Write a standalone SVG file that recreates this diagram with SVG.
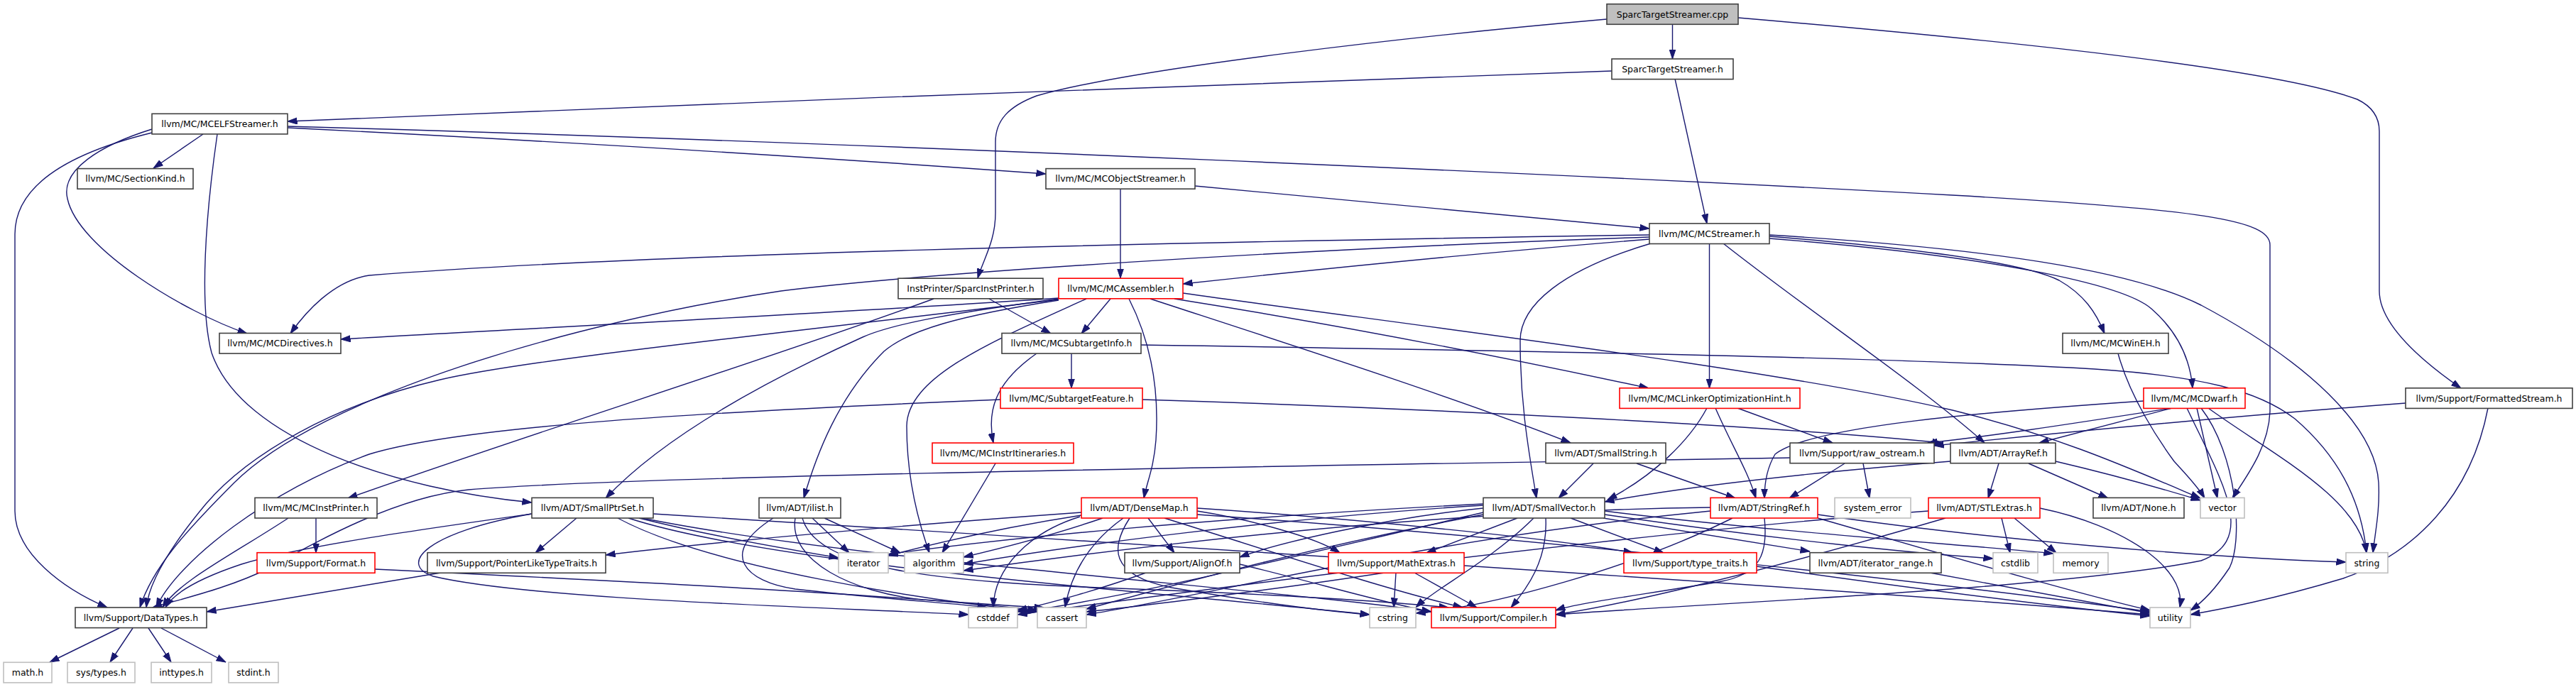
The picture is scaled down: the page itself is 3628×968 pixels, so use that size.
<svg xmlns="http://www.w3.org/2000/svg" width="3628" height="968" viewBox="0 0 3628 968">
<style>
.b{fill:#fff;stroke:#404040;stroke-width:1.6}
.r{fill:#fff;stroke:#ff0000;stroke-width:1.6}
.g{fill:#fff;stroke:#bfbfbf;stroke-width:1.6}
.s{fill:#bfbfbf;stroke:#404040;stroke-width:1.6}
text{font-family:"DejaVu Sans","Liberation Sans",sans-serif;font-size:12.5px;text-anchor:middle;fill:#000}
#edges path{fill:none;stroke:#191970;stroke-width:1.4;marker-end:url(#a)}
</style>
<defs>
<marker id="a" markerWidth="14" markerHeight="10" refX="13.5" refY="5" orient="auto" markerUnits="userSpaceOnUse">
<path d="M0,0.5 L13.5,5 L0,9.5 z" fill="#191970" stroke="#191970" stroke-width="1"/>
</marker>
</defs>
<rect width="3628" height="968" fill="#fff"/>
<g id="edges">
<path d="M2355.5,34 L2355.5,83"/>
<path d="M2263,27 C2000,50 1600,95 1460,135 C1420,150 1402,170 1402,200 L1402,300 C1402,340 1385,365 1377,392"/>
<path d="M2448,25 C2800,55 3200,95 3320,140 C3345,152 3351,170 3351,185 L3351,410 C3351,460 3420,515 3466,547"/>
<path d="M2270,100 C1700,120 1000,145 405,171"/>
<path d="M2359,111 L2404,315"/>
<path d="M286,189 L216,237"/>
<path d="M405,180 C800,200 1200,225 1473,245"/>
<path d="M214,182 C140,205 85,240 95,280 C110,350 260,440 348,470"/>
<path d="M214,187 C100,215 21,260 21,330 L21,720 C21,780 90,830 151,856"/>
<path d="M306,189 C290,300 280,430 298,497 C340,620 560,690 749,708"/>
<path d="M405,178 C1200,200 2300,250 2750,275 C3100,295 3197,310 3197,345 L3197,580 C3195,630 3165,670 3144,702"/>
<path d="M1683,262 L2323,322"/>
<path d="M1578,266 L1578,392"/>
<path d="M2323,331 C1600,342 900,358 520,388 C470,395 430,440 409,470"/>
<path d="M2323,334 C1800,352 1300,385 1100,410 C800,455 450,560 330,680 C260,750 215,800 197,856"/>
<path d="M2323,337 C2100,355 1850,380 1666,400"/>
<path d="M2407.5,343 L2407.5,547"/>
<path d="M2325,343 C2200,380 2141,430 2141,480 C2141,560 2150,620 2164,702"/>
<path d="M2427,343 C2550,440 2700,540 2795,624"/>
<path d="M2492,333 C2700,350 2850,370 2900,395 C2935,415 2952,440 2964,470"/>
<path d="M2492,336 C2800,360 2990,400 3030,435 C3070,470 3085,510 3088,547"/>
<path d="M2492,331 C2800,350 3000,380 3100,430 C3250,510 3345,600 3350,680 C3352,720 3345,750 3342,779"/>
<path d="M1491,420 C1200,440 700,465 480,478"/>
<path d="M1491,422 C1100,470 750,505 620,535 C470,570 350,640 290,710 C240,770 210,820 206,856"/>
<path d="M1491,423 C1350,445 1280,465 1245,495 C1180,560 1150,640 1132,702"/>
<path d="M1491,421 C1350,440 1260,455 1215,475 C1060,545 930,620 853,702"/>
<path d="M1530,421 C1400,480 1278,530 1277,600 C1277,680 1295,740 1309,779"/>
<path d="M1564,421 L1523,470"/>
<path d="M1590,421 C1625,490 1632,560 1628,620 C1625,660 1615,680 1611,702"/>
<path d="M1666,413 C2000,460 2500,520 2750,578 C2900,615 3000,660 3099,702"/>
<path d="M1654,421 C1900,460 2150,510 2322,547"/>
<path d="M1620,421 C1800,480 2050,560 2212,624"/>
<path d="M1315,421 C1100,500 750,610 490,702"/>
<path d="M1393,421 L1480,470"/>
<path d="M1509,498 L1509,547"/>
<path d="M1460,498 C1400,540 1390,580 1399,624"/>
<path d="M1607,486 C2200,495 2700,505 2950,520 C3100,530 3180,550 3232,590 C3290,640 3325,700 3333,779"/>
<path d="M1409,563 C1000,580 650,600 520,640 C380,690 250,790 220,856"/>
<path d="M1609,563 C2000,575 2500,600 2735,624"/>
<path d="M1402,653 L1327,779"/>
<path d="M406,730 C330,780 250,820 229,856"/>
<path d="M445,730 L445,779"/>
<path d="M528,802 C900,820 1300,840 1461,860"/>
<path d="M812,730 L754,779"/>
<path d="M749,724 C600,745 420,770 340,795 C280,815 245,835 233,856"/>
<path d="M749,724 C600,750 560,795 610,812 C750,845 1150,855 1364,866"/>
<path d="M900,730 C1000,755 1100,772 1181,786"/>
<path d="M870,730 C1000,800 1300,845 1461,862"/>
<path d="M885,730 C1100,800 1700,840 1929,866"/>
<path d="M905,730 C1200,790 1800,830 2016,862"/>
<path d="M920,724 C1500,760 2600,830 3028,866"/>
<path d="M1144,730 L1196,779"/>
<path d="M1161,730 L1268,779"/>
<path d="M1089,730 C1010,780 1050,820 1120,830 C1250,845 1350,850 1390,856"/>
<path d="M1120,730 C1110,790 1200,835 1300,845 C1400,852 1440,855 1470,856"/>
<path d="M1130,730 C1150,800 1300,820 1600,830 C1850,840 1980,850 2040,856"/>
<path d="M1523,722 C1200,745 950,770 853,782"/>
<path d="M1523,726 C1400,745 1300,770 1251,783"/>
<path d="M1553,730 C1480,755 1400,775 1357,785"/>
<path d="M1617,730 L1654,779"/>
<path d="M1521,728 C1450,750 1400,800 1399,856"/>
<path d="M1582,730 C1540,760 1510,800 1500,856"/>
<path d="M1591,730 C1565,770 1560,810 1650,828 C1750,845 1850,860 1929,866"/>
<path d="M1640,730 C1800,780 1950,830 2060,856"/>
<path d="M1686,720 C1750,730 1850,755 1887,779"/>
<path d="M1686,716 C1900,730 2200,760 2300,779"/>
<path d="M1686,725 C2200,760 2800,830 3028,862"/>
<path d="M2258,730 L2549,777"/>
<path d="M2212,730 L2343,779"/>
<path d="M2137,730 L2009,779"/>
<path d="M2160,730 C2100,790 2020,830 1994,856"/>
<path d="M2177,730 C2180,790 2150,830 2128,856"/>
<path d="M2089,716 C1950,730 1800,765 1746,785"/>
<path d="M2089,712 C1800,730 1500,770 1357,795"/>
<path d="M2089,710 C1700,730 1400,760 1251,781"/>
<path d="M2089,725 C1800,780 1600,840 1530,858"/>
<path d="M2089,722 C1800,790 1550,850 1433,862"/>
<path d="M2260,725 C2500,760 2700,780 2807,787"/>
<path d="M2260,720 C2500,750 2800,770 2892,780"/>
<path d="M2485,730 C2490,780 2480,810 2420,820 C2300,840 2220,850 2191,860"/>
<path d="M2409,715 C2000,720 1600,770 1357,804"/>
<path d="M2409,720 C2000,760 1700,840 1530,866"/>
<path d="M2560,725 C2800,760 3100,785 3304,792"/>
<path d="M2560,730 C2700,770 2900,830 3028,860"/>
<path d="M2440,730 C2300,800 2100,855 1994,864"/>
<path d="M2598,653 L2520,702"/>
<path d="M2624,653 L2633,702"/>
<path d="M2521,645 C1800,657 900,670 660,690 C560,700 450,760 380,800 C320,830 250,845 215,856"/>
<path d="M2404,575 C2380,620 2330,670 2264,704"/>
<path d="M2416,575 C2440,630 2460,660 2473,702"/>
<path d="M2447,575 L2581,624"/>
<path d="M2244,653 L2195,702"/>
<path d="M2305,653 L2444,702"/>
<path d="M2815,653 L2800,702"/>
<path d="M2857,653 L2969,702"/>
<path d="M2895,650 C2980,670 3050,690 3099,705"/>
<path d="M2747,650 C2500,670 2350,690 2260,707"/>
<path d="M2819,730 L2831,779"/>
<path d="M2837,730 L2896,779"/>
<path d="M2873,716 C2990,740 3080,800 3070,856"/>
<path d="M2716,720 C2300,750 1700,830 1433,866"/>
<path d="M2740,730 C2500,800 2300,850 2191,866"/>
<path d="M3059,575 C2900,600 2800,615 2715,624"/>
<path d="M3059,575 L2872,624"/>
<path d="M3019,565 C2800,580 2550,600 2500,640 C2488,660 2485,680 2485,702"/>
<path d="M3094,575 L3123,702"/>
<path d="M3110,575 C3200,640 3320,700 3333,779"/>
<path d="M3100,575 C3150,640 3160,760 3140,800 C3120,830 3100,850 3085,860"/>
<path d="M3080,575 C3130,680 3180,760 3100,790 C2900,830 2400,850 2191,866"/>
<path d="M3388,568 C3100,590 2850,615 2724,628"/>
<path d="M3504,575 C3480,700 3400,780 3300,815 C3200,845 3130,858 3085,866"/>
<path d="M2718,807 L3028,864"/>
<path d="M2474,798 C2700,830 2900,855 3028,868"/>
<path d="M1966,807 L1963,856"/>
<path d="M1992,807 L2080,856"/>
<path d="M1950,807 C1800,830 1600,855 1530,862"/>
<path d="M1746,795 C1850,820 1950,850 2016,862"/>
<path d="M1614,807 C1550,830 1480,850 1433,860"/>
<path d="M627,806 L291,862"/>
<path d="M168,885 L70,933"/>
<path d="M187,885 L155,933"/>
<path d="M209,885 L241,933"/>
<path d="M227,885 L318,933"/>
<path d="M2983,498 C3000,560 3040,620 3062,650 C3080,670 3095,685 3105,702"/>
</g>
<g id="n0"><rect class="s" x="2263" y="5.7" width="185" height="28.6"/><text x="2355.5" y="24.5">SparcTargetStreamer.cpp</text></g>
<g id="n1"><rect class="b" x="2270" y="83" width="171" height="28.6"/><text x="2355.5" y="101.8">SparcTargetStreamer.h</text></g>
<g id="n2"><rect class="b" x="214" y="160.3" width="191" height="28.6"/><text x="309.5" y="179.1">llvm/MC/MCELFStreamer.h</text></g>
<g id="n3"><rect class="b" x="109" y="237.6" width="163" height="28.6"/><text x="190.5" y="256.4">llvm/MC/SectionKind.h</text></g>
<g id="n4"><rect class="b" x="1473" y="237.6" width="210" height="28.6"/><text x="1578" y="256.4">llvm/MC/MCObjectStreamer.h</text></g>
<g id="n5"><rect class="b" x="2323" y="314.9" width="169" height="28.6"/><text x="2407.5" y="333.7">llvm/MC/MCStreamer.h</text></g>
<g id="n6"><rect class="b" x="1265" y="392.2" width="204" height="28.6"/><text x="1367" y="411">InstPrinter/SparcInstPrinter.h</text></g>
<g id="n7"><rect class="r" x="1491" y="392.2" width="175" height="28.6"/><text x="1578.5" y="411">llvm/MC/MCAssembler.h</text></g>
<g id="n8"><rect class="b" x="309" y="469.5" width="171" height="28.6"/><text x="394.5" y="488.3">llvm/MC/MCDirectives.h</text></g>
<g id="n9"><rect class="b" x="1411" y="469.5" width="196" height="28.6"/><text x="1509" y="488.3">llvm/MC/MCSubtargetInfo.h</text></g>
<g id="n10"><rect class="b" x="2905" y="469.5" width="149" height="28.6"/><text x="2979.5" y="488.3">llvm/MC/MCWinEH.h</text></g>
<g id="n11"><rect class="r" x="1409" y="546.8" width="200" height="28.6"/><text x="1509" y="565.6">llvm/MC/SubtargetFeature.h</text></g>
<g id="n12"><rect class="r" x="2281" y="546.8" width="254" height="28.6"/><text x="2408" y="565.6">llvm/MC/MCLinkerOptimizationHint.h</text></g>
<g id="n13"><rect class="r" x="3019" y="546.8" width="143" height="28.6"/><text x="3090.5" y="565.6">llvm/MC/MCDwarf.h</text></g>
<g id="n14"><rect class="b" x="3388" y="546.8" width="235" height="28.6"/><text x="3505.5" y="565.6">llvm/Support/FormattedStream.h</text></g>
<g id="n15"><rect class="r" x="1313" y="624.1" width="199" height="28.6"/><text x="1412.5" y="642.9">llvm/MC/MCInstrItineraries.h</text></g>
<g id="n16"><rect class="b" x="2177" y="624.1" width="169" height="28.6"/><text x="2261.5" y="642.9">llvm/ADT/SmallString.h</text></g>
<g id="n17"><rect class="b" x="2521" y="624.1" width="203" height="28.6"/><text x="2622.5" y="642.9">llvm/Support/raw_ostream.h</text></g>
<g id="n18"><rect class="b" x="2747" y="624.1" width="148" height="28.6"/><text x="2821" y="642.9">llvm/ADT/ArrayRef.h</text></g>
<g id="n19"><rect class="b" x="359" y="701.4" width="172" height="28.6"/><text x="445" y="720.2">llvm/MC/MCInstPrinter.h</text></g>
<g id="n20"><rect class="b" x="749" y="701.4" width="171" height="28.6"/><text x="834.5" y="720.2">llvm/ADT/SmallPtrSet.h</text></g>
<g id="n21"><rect class="b" x="1069" y="701.4" width="115" height="28.6"/><text x="1126.5" y="720.2">llvm/ADT/ilist.h</text></g>
<g id="n22"><rect class="r" x="1523" y="701.4" width="163" height="28.6"/><text x="1604.5" y="720.2">llvm/ADT/DenseMap.h</text></g>
<g id="n23"><rect class="b" x="2089" y="701.4" width="171" height="28.6"/><text x="2174.5" y="720.2">llvm/ADT/SmallVector.h</text></g>
<g id="n24"><rect class="r" x="2409" y="701.4" width="151" height="28.6"/><text x="2484.5" y="720.2">llvm/ADT/StringRef.h</text></g>
<g id="n25"><rect class="g" x="2584" y="701.4" width="107" height="28.6"/><text x="2637.5" y="720.2">system_error</text></g>
<g id="n26"><rect class="r" x="2716" y="701.4" width="157" height="28.6"/><text x="2794.5" y="720.2">llvm/ADT/STLExtras.h</text></g>
<g id="n27"><rect class="b" x="2948" y="701.4" width="128" height="28.6"/><text x="3012" y="720.2">llvm/ADT/None.h</text></g>
<g id="n28"><rect class="g" x="3099" y="701.4" width="62" height="28.6"/><text x="3130" y="720.2">vector</text></g>
<g id="n29"><rect class="r" x="362" y="778.7" width="166" height="28.6"/><text x="445" y="797.5">llvm/Support/Format.h</text></g>
<g id="n30"><rect class="b" x="602" y="778.7" width="251" height="28.6"/><text x="727.5" y="797.5">llvm/Support/PointerLikeTypeTraits.h</text></g>
<g id="n31"><rect class="g" x="1181" y="778.7" width="70" height="28.6"/><text x="1216" y="797.5">iterator</text></g>
<g id="n32"><rect class="g" x="1274" y="778.7" width="83" height="28.6"/><text x="1315.5" y="797.5">algorithm</text></g>
<g id="n33"><rect class="b" x="1584" y="778.7" width="162" height="28.6"/><text x="1665" y="797.5">llvm/Support/AlignOf.h</text></g>
<g id="n34"><rect class="r" x="1871" y="778.7" width="191" height="28.6"/><text x="1966.5" y="797.5">llvm/Support/MathExtras.h</text></g>
<g id="n35"><rect class="r" x="2287" y="778.7" width="187" height="28.6"/><text x="2380.5" y="797.5">llvm/Support/type_traits.h</text></g>
<g id="n36"><rect class="b" x="2549" y="778.7" width="185" height="28.6"/><text x="2641.5" y="797.5">llvm/ADT/iterator_range.h</text></g>
<g id="n37"><rect class="g" x="2807" y="778.7" width="63" height="28.6"/><text x="2838.5" y="797.5">cstdlib</text></g>
<g id="n38"><rect class="g" x="2892" y="778.7" width="77" height="28.6"/><text x="2930.5" y="797.5">memory</text></g>
<g id="n39"><rect class="g" x="3304" y="778.7" width="59" height="28.6"/><text x="3333.5" y="797.5">string</text></g>
<g id="n40"><rect class="b" x="106" y="856" width="185" height="28.6"/><text x="198.5" y="874.8">llvm/Support/DataTypes.h</text></g>
<g id="n41"><rect class="g" x="1364" y="856" width="69" height="28.6"/><text x="1398.5" y="874.8">cstddef</text></g>
<g id="n42"><rect class="g" x="1461" y="856" width="69" height="28.6"/><text x="1495.5" y="874.8">cassert</text></g>
<g id="n43"><rect class="g" x="1929" y="856" width="65" height="28.6"/><text x="1961.5" y="874.8">cstring</text></g>
<g id="n44"><rect class="r" x="2016" y="856" width="175" height="28.6"/><text x="2103.5" y="874.8">llvm/Support/Compiler.h</text></g>
<g id="n45"><rect class="g" x="3028" y="856" width="57" height="28.6"/><text x="3056.5" y="874.8">utility</text></g>
<g id="n46"><rect class="g" x="5" y="933.3" width="68" height="28.6"/><text x="39" y="952.1">math.h</text></g>
<g id="n47"><rect class="g" x="95" y="933.3" width="95" height="28.6"/><text x="142.5" y="952.1">sys/types.h</text></g>
<g id="n48"><rect class="g" x="213" y="933.3" width="85" height="28.6"/><text x="255.5" y="952.1">inttypes.h</text></g>
<g id="n49"><rect class="g" x="322" y="933.3" width="70" height="28.6"/><text x="357" y="952.1">stdint.h</text></g>
</svg>
